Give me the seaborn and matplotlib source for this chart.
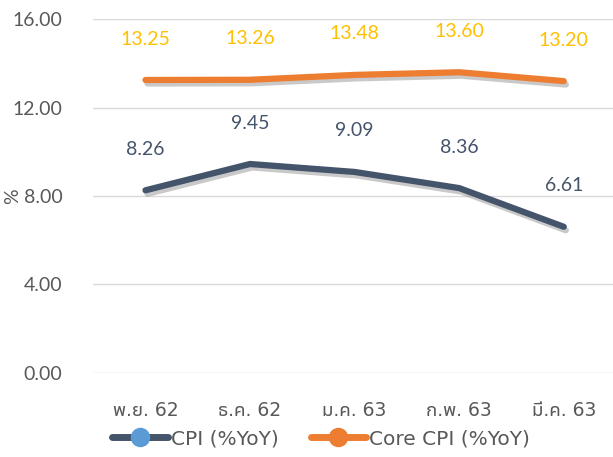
import pandas as pd
import matplotlib.pyplot as plt
import matplotlib.patheffects as pe
from matplotlib.lines import Line2D
import seaborn as sns

# ── data ──────────────────────────────────────────────────────────────────────
months = ["พ.ย. 62", "ธ.ค. 62", "ม.ค. 63", "ก.พ. 63", "มี.ค. 63"]
cpi = [8.26, 9.45, 9.09, 8.36, 6.61]
core_cpi = [13.25, 13.26, 13.48, 13.60, 13.20]

CPI_LINE, CPI_DOT, CPI_TXT = "#44546A", "#5B9BD5", "#44546A"
CORE_LINE, CORE_TXT = "#ED7D31", "#FFC000"
WIDE = ["DejaVu Sans", "Noto Sans Thai UI"]

df = pd.DataFrame({"month": months, "CPI (%YoY)": cpi, "Core CPI (%YoY)": core_cpi})
df["x"] = range(len(months))

sns.set_style("white")
plt.rcParams["font.family"] = ["Lato", "Noto Sans Thai UI", "DejaVu Sans"]

fig, ax = plt.subplots(figsize=(6.13, 4.57), dpi=100)
shadow = [pe.SimpleLineShadow(offset=(1.5, -2.5), shadow_color="#888888", alpha=0.45), pe.Normal()]

sns.lineplot(data=df, x="x", y="CPI (%YoY)", color=CPI_LINE, linewidth=4.5,
             solid_capstyle="round", ax=ax, path_effects=shadow)
sns.lineplot(data=df, x="x", y="Core CPI (%YoY)", color=CORE_LINE, linewidth=4.5,
             solid_capstyle="round", ax=ax, path_effects=shadow)

for x, v in zip(df["x"], cpi):
    ax.annotate(f"{v:.2f}", (x, v), textcoords="offset points", xytext=(0, 29.5),
                ha="center", va="center", fontsize=14, color=CPI_TXT)
for x, v in zip(df["x"], core_cpi):
    ax.annotate(f"{v:.2f}", (x, v), textcoords="offset points", xytext=(0, 29.5),
                ha="center", va="center", fontsize=14, color=CORE_TXT)

ax.set_xlim(-0.5, 4.5)
ax.set_ylim(0, 16)
ax.set_yticks([0, 4, 8, 12, 16])
ax.set_yticklabels([f"{t:.2f}" for t in [0, 4, 8, 12, 16]])
ax.set_xticks(df["x"])
ax.set_xticklabels(months, family=WIDE)
ax.tick_params(axis="y", colors="#595959", labelsize=14, length=0, pad=22)
ax.tick_params(axis="x", colors="#595959", labelsize=13.5, length=0, pad=20)
ax.yaxis.grid(True, color="#D9D9D9", linewidth=1)
for s in ax.spines.values():
    s.set_visible(False)
ax.set_xlabel("")
ax.set_ylabel("%", fontsize=14, color="#595959")
ax.yaxis.set_label_coords(-0.137, 0.5)

handles = [
    Line2D([0], [0], color=CPI_LINE, linewidth=5, marker="o", markersize=13,
           markerfacecolor=CPI_DOT, markeredgecolor=CPI_DOT),
    Line2D([0], [0], color=CORE_LINE, linewidth=5, marker="o", markersize=13,
           markerfacecolor=CORE_LINE, markeredgecolor=CORE_LINE),
]
fig.legend(handles, ["CPI (%YoY)", "Core CPI (%YoY)"], loc="lower center",
           bbox_to_anchor=(0.524, -0.02), ncol=2, frameon=False,
           prop={"family": WIDE, "size": 14.5},
           handlelength=2.75, handletextpad=0.15, columnspacing=1.6, labelcolor="#595959")

plt.subplots_adjust(left=0.152, right=1.005, top=0.958, bottom=0.184)
plt.savefig("out.png", dpi=100)
